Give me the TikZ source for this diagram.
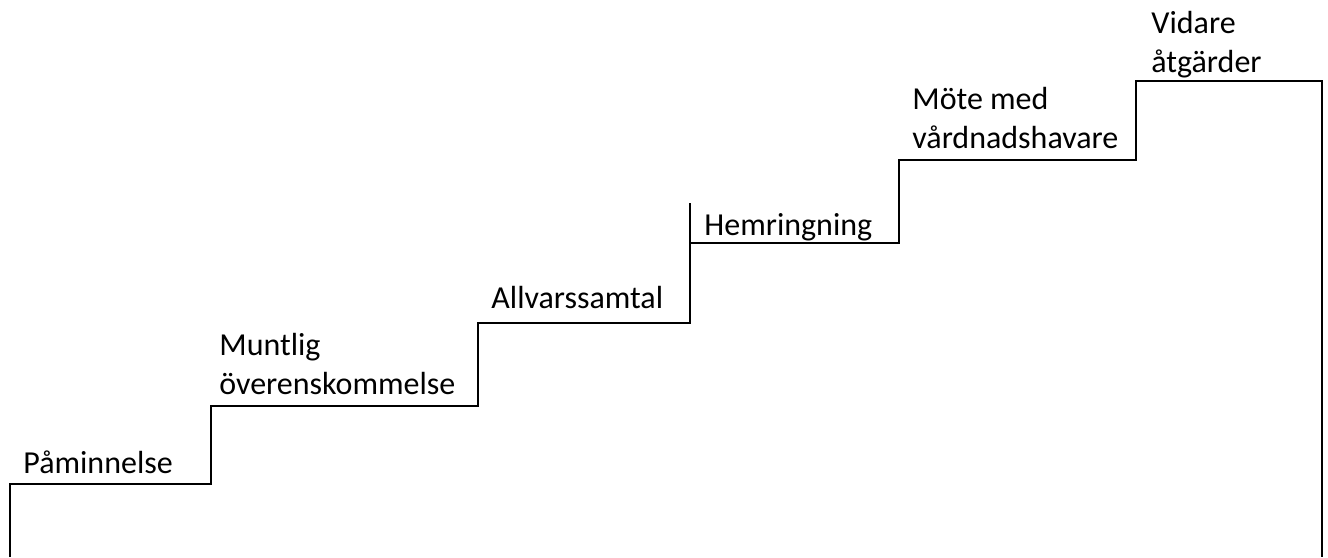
\documentclass[tikz,border=0pt]{standalone}
\usepackage{fontspec}
\setmainfont{Carlito}

\begin{document}
\begin{tikzpicture}[x=0.5pt,y=-0.5pt,
    stairlabel/.style={anchor=base west,inner sep=0pt,align=left,
      font=\fontsize{16}{19.5}\selectfont}]
  \useasboundingbox (0,0) rectangle (1328,557);
  % the staircase
  \draw[line width=1.35pt] (10,557) -- (10,484) -- (211,484) -- (211,406)
    -- (478,406) -- (478,323) -- (690,323) -- (690,243) -- (899,243)
    -- (899,160) -- (1136,160) -- (1136,81) -- (1322,81) -- (1322,557);
  \draw[line width=1.35pt] (690,243) -- (690,203);
  % steps (base = baseline of the last line)
  \node[stairlabel] (pam) at (23,473) {Påminnelse};
  \node[stairlabel] (munt) at (219,394) {Muntlig\\överenskommelse};
  \node[stairlabel] (allv) at (491,308) {Allvarssamtal};
  \node[stairlabel] (hem) at (704,235) {Hemringning};
  \node[stairlabel] (mote) at (912,148) {Möte med\\vårdnadshavare};
  \node[stairlabel] (vid) at (1151,72) {Vidare\\åtgärder};
\end{tikzpicture}
\end{document}
